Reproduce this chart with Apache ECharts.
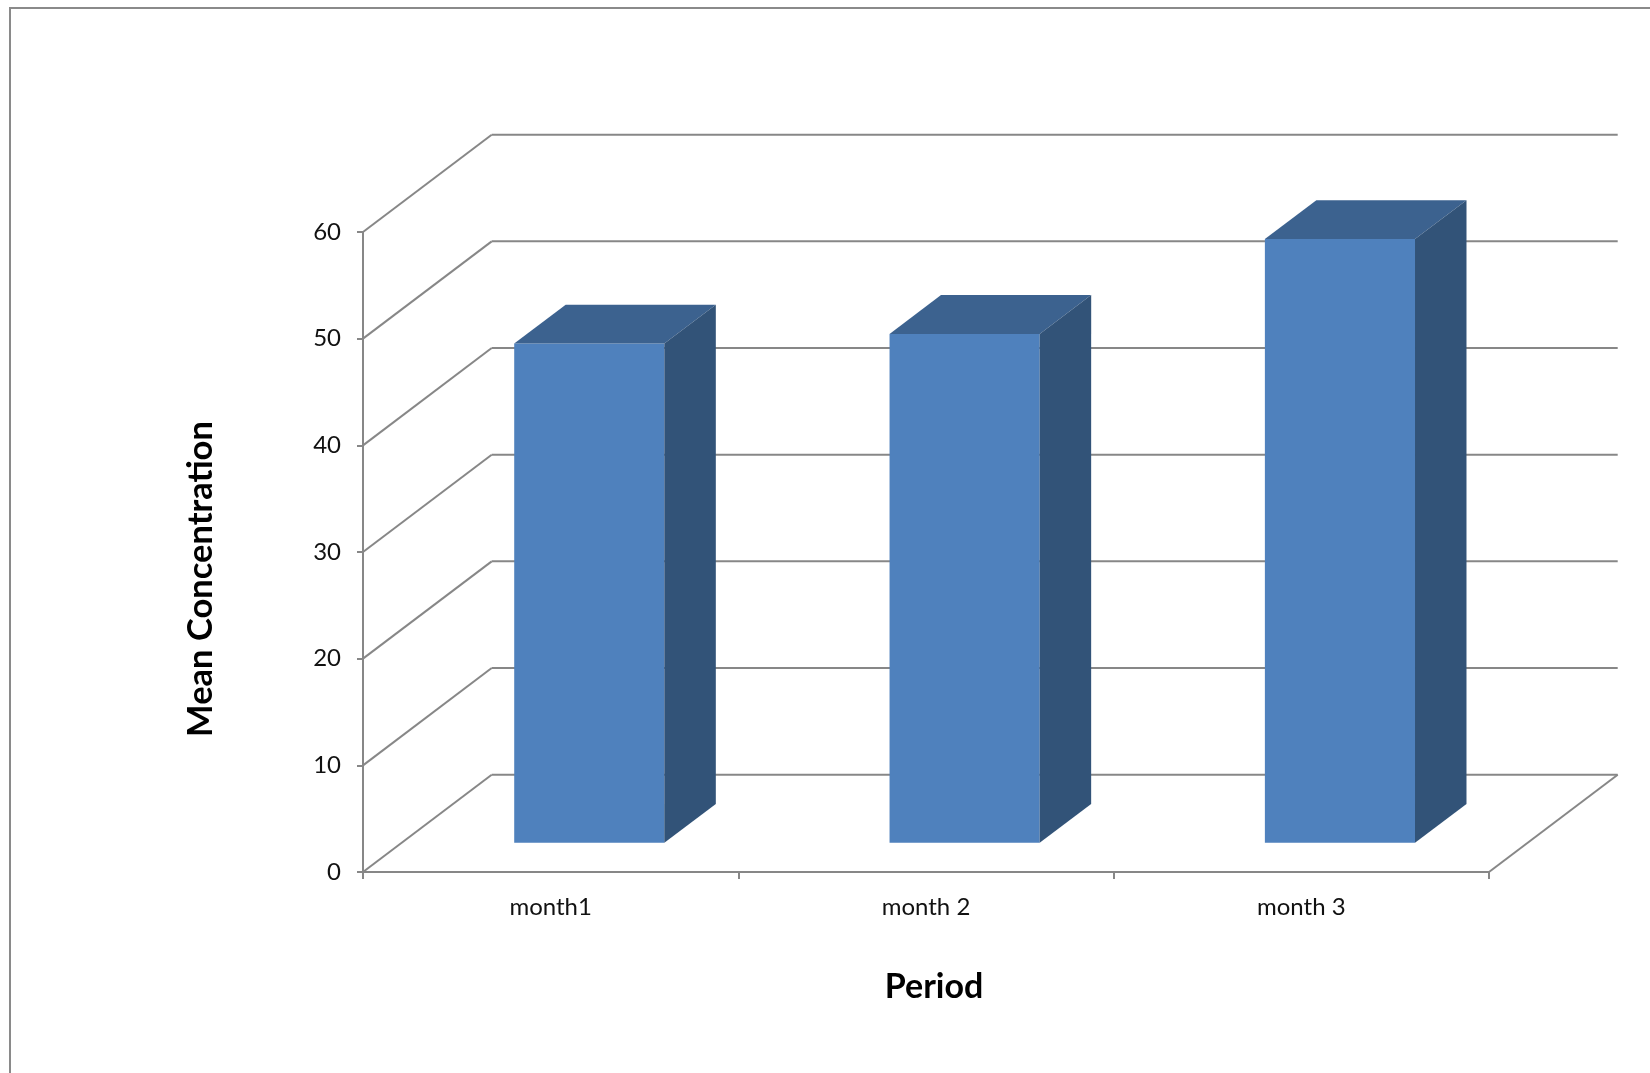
<!DOCTYPE html>
<html>
<head>
<meta charset="utf-8">
<title>Mean Concentration by Period</title>
<script src="https://cdn.jsdelivr.net/npm/echarts@6/dist/echarts.min.js"></script>
<style>
  html, body { margin: 0; padding: 0; background: #fff; }
  #chart { width: 1650px; height: 1073px; }
</style>
</head>
<body>
<div id="chart"></div>
<script>
// Data
const categories = ['month1', 'month 2', 'month 3'];
const meanConcentration = [46.8, 47.7, 56.6];
const yTicks = [0, 10, 20, 30, 40, 50, 60];

// Oblique 3D look: depth offset of the back wall (pixels) and bar placement in depth
const DEPTH_DX = 128.7;
const DEPTH_DY = 97.3;
const BAR_FRONT = 0.3;
const BAR_BACK = 0.7;
const BAR_WIDTH_RATIO = 0.4;

const GRID_COLOR = '#878787';
const FONT = 'Lato, "Open Sans", sans-serif';

const chart = echarts.init(document.getElementById('chart'), null, { renderer: 'canvas' });

// Back wall, left wall and floor edge lines drawn for every value tick
function renderWalls(params, api) {
  const cs = params.coordSys;
  const v = api.value(1);
  const y = api.coord([0, v])[1];
  const x0 = cs.x;
  const x1 = cs.x + cs.width;
  const style = { stroke: GRID_COLOR, lineWidth: 2, fill: null };
  const children = [
    { type: 'line', shape: { x1: x0, y1: y, x2: x0 + DEPTH_DX, y2: y - DEPTH_DY }, style },
    { type: 'line', shape: { x1: x0 + DEPTH_DX, y1: y - DEPTH_DY, x2: x1 + DEPTH_DX, y2: y - DEPTH_DY }, style }
  ];
  if (v === 0) {
    children.push({ type: 'line', shape: { x1: x1, y1: y, x2: x1 + DEPTH_DX, y2: y - DEPTH_DY }, style });
  }
  return { type: 'group', children };
}

// A box-shaped bar: front face, top face and right side face
function renderBar(params, api) {
  const idx = api.value(0);
  const val = api.value(1);
  const base = api.coord([idx, 0]);
  const topPt = api.coord([idx, val]);
  const band = api.size([1, 0])[0];
  const bw = band * BAR_WIDTH_RATIO;
  const fx = BAR_FRONT * DEPTH_DX, fy = BAR_FRONT * DEPTH_DY;
  const ddx = (BAR_BACK - BAR_FRONT) * DEPTH_DX;
  const ddy = (BAR_BACK - BAR_FRONT) * DEPTH_DY;
  const left = base[0] + fx - bw / 2;
  const right = base[0] + fx + bw / 2;
  const bottom = base[1] - fy;
  const top = topPt[1] - fy;
  return {
    type: 'group',
    children: [
      {
        type: 'rect',
        shape: { x: left, y: top, width: bw, height: bottom - top },
        style: { fill: '#4F81BD' }
      },
      {
        type: 'polygon',
        shape: { points: [[left, top], [right, top], [right + ddx, top - ddy], [left + ddx, top - ddy]] },
        style: { fill: '#3C628F' }
      },
      {
        type: 'polygon',
        shape: { points: [[right, top], [right + ddx, top - ddy], [right + ddx, bottom - ddy], [right, bottom]] },
        style: { fill: '#325378' }
      }
    ]
  };
}

const option = {
  backgroundColor: '#ffffff',
  animation: false,
  graphic: [
    {
      type: 'rect',
      shape: { x: 10, y: 8, width: 2000, height: 2000 },
      style: { fill: null, stroke: '#8a8a8a', lineWidth: 2 },
      silent: true
    }
  ],
  grid: { left: 363, top: 232, width: 1126, height: 640 },
  xAxis: {
    type: 'category',
    data: categories,
    boundaryGap: true,
    name: 'Period',
    nameLocation: 'middle',
    nameGap: 98,
    nameTextStyle: { fontFamily: FONT, fontSize: 34, fontWeight: 'bold', color: '#000', padding: [0, 0, 0, 16] },
    axisLine: { show: true, lineStyle: { color: GRID_COLOR, width: 2 } },
    axisTick: { show: true, length: 7, alignWithLabel: false, lineStyle: { color: GRID_COLOR, width: 2 } },
    axisLabel: { fontFamily: FONT, fontSize: 24, color: '#111', margin: 23 },
    splitLine: { show: false }
  },
  yAxis: {
    type: 'value',
    min: 0,
    max: 60,
    interval: 10,
    name: 'Mean Concentration',
    nameLocation: 'middle',
    nameRotate: 90,
    nameGap: 145,
    nameTextStyle: { fontFamily: FONT, fontSize: 34.5, fontWeight: 'bold', color: '#000', padding: [0, 54, 0, 0] },
    axisLine: { show: true, lineStyle: { color: GRID_COLOR, width: 2 } },
    axisTick: { show: true, length: 6, lineStyle: { color: GRID_COLOR, width: 2 } },
    axisLabel: { fontFamily: FONT, fontSize: 24, color: '#111', margin: 22 },
    splitLine: { show: false }
  },
  series: [
    {
      type: 'custom',
      name: 'walls',
      silent: true,
      z: 1,
      renderItem: renderWalls,
      data: yTicks.map(v => [0, v])
    },
    {
      type: 'custom',
      name: 'Mean Concentration',
      z: 2,
      renderItem: renderBar,
      encode: { x: 0, y: 1 },
      data: meanConcentration.map((v, i) => [i, v])
    }
  ]
};

chart.setOption(option);
</script>
</body>
</html>
